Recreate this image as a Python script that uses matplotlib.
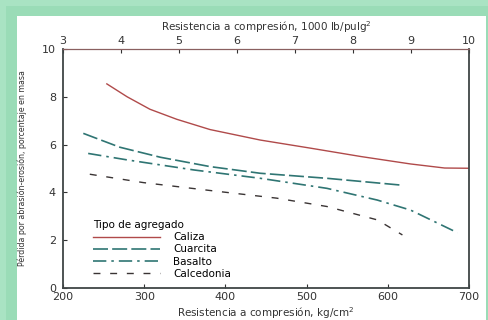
import matplotlib.pyplot as plt
from matplotlib.patches import Rectangle
from matplotlib import font_manager

# (kg/cm2, % loss)
caliza_x = [254, 279, 307, 340, 381, 443, 505, 567, 628, 670, 700]
caliza_y = [8.54, 8.0, 7.48, 7.06, 6.63, 6.19, 5.85, 5.50, 5.19, 5.02, 5.01]
cuarcita_x = [225, 270, 320, 381, 443, 525, 618]
cuarcita_y = [6.47, 5.89, 5.47, 5.08, 4.80, 4.59, 4.30]
basalto_x = [231, 279, 361, 443, 525, 587, 628, 686]
basalto_y = [5.63, 5.36, 4.94, 4.59, 4.17, 3.68, 3.26, 2.31]
calcedonia_x = [233, 299, 381, 463, 525, 587, 618]
calcedonia_y = [4.76, 4.41, 4.08, 3.76, 3.41, 2.85, 2.22]

x_ticks = [200, 300, 400, 500, 600, 700]
y_ticks = [0, 2, 4, 6, 8, 10]
top_ticks = [3, 4, 5, 6, 7, 8, 9, 10]

W, H = 489, 320
fig = plt.figure(figsize=(W / 100, H / 100), dpi=100)
fig.patch.set_facecolor("white")

# green frame around a white panel
fig.patches.append(Rectangle((0, 0), 1, 1, transform=fig.transFigure,
                             facecolor="#a9e3c3", edgecolor="none", zorder=-3))
fig.patches.append(Rectangle((6 / W, 0), 1, (H - 6) / H, transform=fig.transFigure,
                             facecolor="#9adcb7", edgecolor="none", zorder=-2))
fig.patches.append(Rectangle((17 / W, 0), (486 - 17) / W, (H - 16) / H,
                             transform=fig.transFigure,
                             facecolor="white", edgecolor="none", zorder=-1))

ax = fig.add_axes([63 / W, 1 - 288 / H, (469 - 63) / W, (288 - 49) / H])
ax.set_facecolor("white")

ax.plot(caliza_x, caliza_y, color="#b04a4a", lw=1.0, label="Caliza")
ax.plot(cuarcita_x, cuarcita_y, color="#2f7573", lw=1.2, dashes=(9, 2.5), label="Cuarcita")
ax.plot(basalto_x, basalto_y, color="#2f7573", lw=1.2, dashes=(8, 3, 1.5, 3), label="Basalto")
ax.plot(calcedonia_x, calcedonia_y, color="#3a3434", lw=1.0, dashes=(5, 7), label="Calcedonia")

ax.set_xlim(200, 700)
ax.set_ylim(0, 10)
ax.set_xticks(x_ticks)
ax.set_yticks(y_ticks)
ax.tick_params(direction="in", length=3, labelsize=8, colors="#333333", pad=3)
ax.tick_params(axis="y", pad=5)

for s in ["left", "bottom", "right"]:
    ax.spines[s].set_color("#3f4545")
    ax.spines[s].set_linewidth(1.3)
ax.spines["top"].set_color("#8a6060")
ax.spines["top"].set_linewidth(0.9)

ax.set_xlabel("Resistencia a compresión, kg/cm$^2$", fontsize=7.5, color="#333333", labelpad=2)
ylab_font = font_manager.FontProperties(family="DejaVu Sans", stretch="condensed", size=6.3)
ax.set_ylabel("Pérdida por abrasión-erosión, porcentaje en masa", fontproperties=ylab_font,
              color="#333333", labelpad=11)

top = ax.secondary_xaxis("top", functions=(lambda k: 3 + (k - 200) * 7 / 500,
                                           lambda p: 200 + (p - 3) * 500 / 7))
top.set_xticks(top_ticks)
top.tick_params(direction="in", length=3, labelsize=8, colors="#333333", pad=2)
top.spines["top"].set_visible(False)
top.set_xlabel("Resistencia a compresión, 1000 lb/pulg$^2$", fontsize=7.5, color="#333333", labelpad=4)

leg = ax.legend(loc="lower left", bbox_to_anchor=(0.05, 0.0), frameon=False,
                title="Tipo de agregado", fontsize=7.5, title_fontsize=7.5,
                handlelength=6.5, handletextpad=1.2, labelspacing=0.2,
                alignment="left")

fig.savefig("out.png", dpi=100)
